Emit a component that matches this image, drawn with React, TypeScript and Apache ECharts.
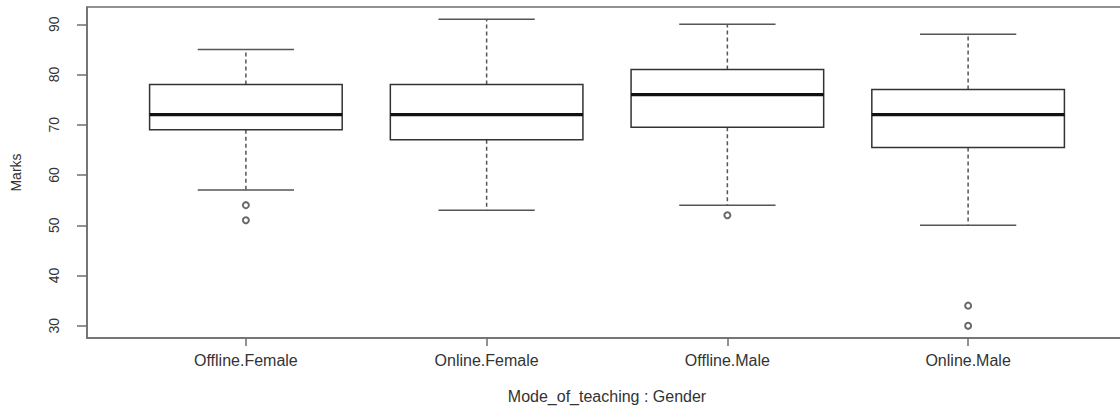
import React, { useEffect, useRef } from "react";
import * as echarts from "echarts";

const categories = ["Offline.Female", "Online.Female", "Offline.Male", "Online.Male"];
const lowerWhisker = [57, 53, 54, 50];
const q1 = [69, 67, 69.5, 65.5];
const median = [72, 72, 76, 72];
const q3 = [78, 78, 81, 77];
const upperWhisker = [85, 91, 90, 88];
const outlierGroup = [1, 1, 3, 4, 4];
const outlierValue = [54, 51, 52, 34, 30];
const yTicks = [30, 40, 50, 60, 70, 80, 90];
const xTicks = [1, 2, 3, 4];

const FONT = "'Liberation Sans', Arial, Helvetica, sans-serif";
const TEXT = "#333";
const FRAME = "#6e6e6e";

export default function App() {
  const ref = useRef<HTMLDivElement>(null);
  useEffect(() => {
    if (!ref.current) return;
    const chart = echarts.init(ref.current, null, { renderer: "svg" });
    const boxData = categories.map((_, i) => [
      i + 1,
      lowerWhisker[i],
      q1[i],
      median[i],
      q3[i],
      upperWhisker[i],
    ]);
    const outData = outlierGroup.map((g, i) => [g, outlierValue[i]]);
    const option: any = {
      animation: false,
      grid: {
        left: 87,
        top: 7,
        width: 1040,
        height: 331,
        show: true,
        containLabel: false,
        outerBoundsMode: "none",
        borderColor: FRAME,
        borderWidth: 1.5,
        backgroundColor: "transparent",
      },
      xAxis: {
        type: "value",
        min: 0.34,
        max: 4.66,
        splitLine: { show: false },
        axisLine: { show: true, lineStyle: { color: FRAME, width: 1.5 } },
        axisTick: {
          show: true,
          customValues: xTicks,
          length: 8,
          lineStyle: { color: FRAME, width: 1.5 },
        },
        axisLabel: {
          customValues: xTicks,
          formatter: (v: number) => categories[Math.round(v) - 1] ?? "",
          fontSize: 16,
          color: TEXT,
          margin: 14,
          fontFamily: FONT,
        },
        name: "Mode_of_teaching : Gender",
        nameLocation: "middle",
        nameGap: 50,
        nameTextStyle: { fontSize: 16, color: TEXT, fontFamily: FONT },
      },
      yAxis: {
        type: "value",
        min: 27.56,
        max: 93.44,
        splitLine: { show: false },
        axisLine: { show: true, lineStyle: { color: FRAME, width: 1.5 } },
        axisTick: {
          show: true,
          customValues: yTicks,
          length: 10,
          lineStyle: { color: FRAME, width: 1.5 },
        },
        axisLabel: {
          customValues: yTicks,
          rotate: 90,
          fontSize: 14,
          color: TEXT,
          margin: 26,
          fontFamily: FONT,
        },
        name: "Marks",
        nameLocation: "middle",
        nameRotate: 90,
        nameGap: 64,
        nameTextStyle: { fontSize: 14, color: TEXT, fontFamily: FONT },
      },
      series: [
        {
          type: "custom",
          data: boxData,
          encode: { x: 0, y: [1, 2, 3, 4, 5] },
          renderItem: (params: any, api: any) => {
            const x = api.value(0);
            const lo = api.coord([x, api.value(1)]);
            const b1 = api.coord([x, api.value(2)]);
            const md = api.coord([x, api.value(3)]);
            const b3 = api.coord([x, api.value(4)]);
            const hi = api.coord([x, api.value(5)]);
            const boxW = api.size([0.8, 0])[0];
            const capW = boxW / 2;
            const cx = lo[0];
            const whiskStyle = { stroke: "#555", lineWidth: 1.5, lineDash: [4, 3] };
            const capStyle = { stroke: "#555", lineWidth: 1.5 };
            return {
              type: "group",
              children: [
                {
                  type: "line",
                  shape: { x1: cx, y1: b3[1], x2: cx, y2: hi[1] },
                  style: whiskStyle,
                },
                {
                  type: "line",
                  shape: { x1: cx, y1: b1[1], x2: cx, y2: lo[1] },
                  style: whiskStyle,
                },
                {
                  type: "line",
                  shape: { x1: cx - capW / 2, y1: hi[1], x2: cx + capW / 2, y2: hi[1] },
                  style: capStyle,
                },
                {
                  type: "line",
                  shape: { x1: cx - capW / 2, y1: lo[1], x2: cx + capW / 2, y2: lo[1] },
                  style: capStyle,
                },
                {
                  type: "rect",
                  shape: { x: cx - boxW / 2, y: b3[1], width: boxW, height: b1[1] - b3[1] },
                  style: { stroke: "#333", lineWidth: 1.5, fill: "#fff" },
                },
                {
                  type: "line",
                  shape: { x1: cx - boxW / 2, y1: md[1], x2: cx + boxW / 2, y2: md[1] },
                  style: { stroke: "#111", lineWidth: 3.2 },
                },
              ],
            };
          },
        },
        {
          type: "scatter",
          data: outData,
          symbol: "emptyCircle",
          symbolSize: 6,
          itemStyle: { color: "#444", borderColor: "#444", borderWidth: 1.3 },
          z: 5,
        },
      ],
    };
    chart.setOption(option);
    return () => chart.dispose();
  }, []);
  return (
    <div
      style={{
        position: "absolute",
        left: 0,
        top: 0,
        width: 1120,
        height: 407,
        overflow: "hidden",
        background: "#fff",
      }}
    >
      <div ref={ref} style={{ width: 1140, height: 407 }} />
    </div>
  );
}
